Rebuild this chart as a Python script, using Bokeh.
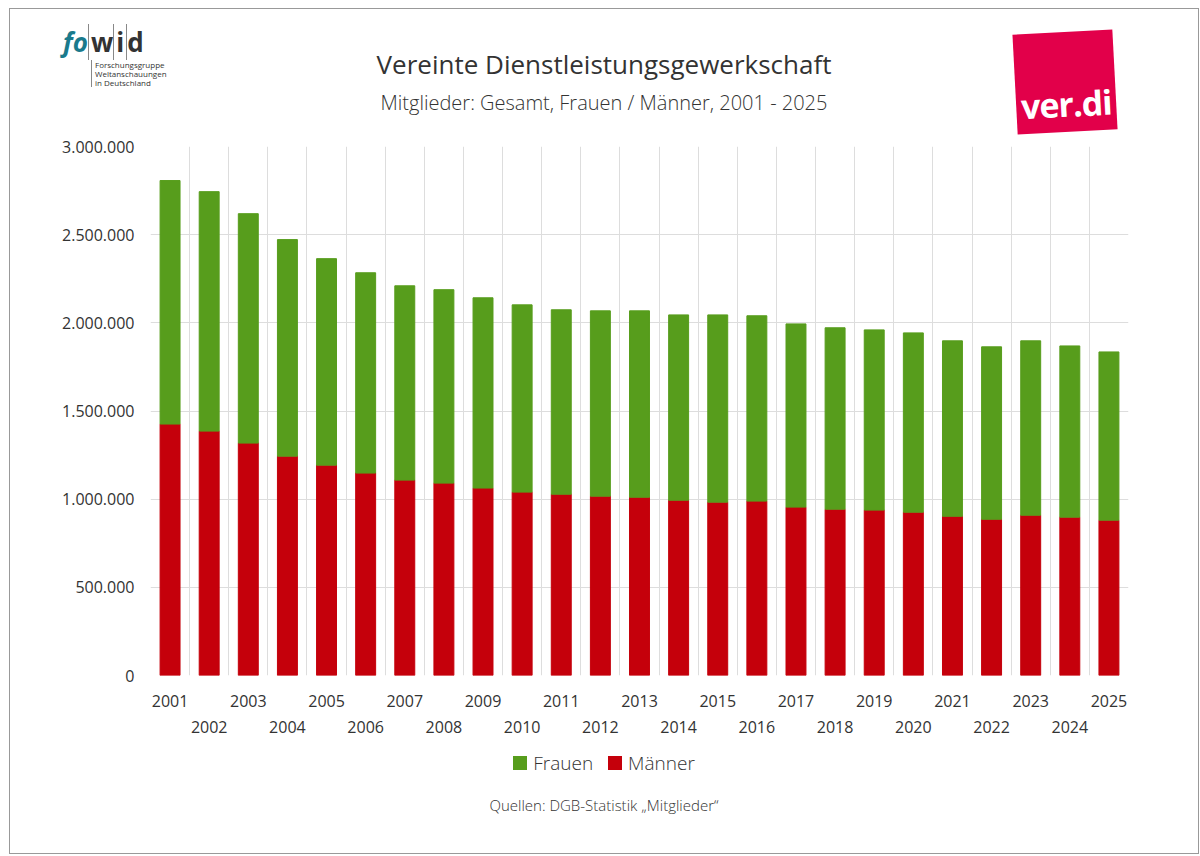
from bokeh.plotting import figure
from bokeh.models import ColumnDataSource, FixedTicker, CustomJSTickFormatter, Range1d, Div
from bokeh.layouts import column
from bokeh.embed import file_html
from bokeh.resources import INLINE

years = list(range(2001, 2026))
total = [2807000, 2744000, 2619000, 2472000, 2364000, 2284000, 2210000, 2188000, 2142000, 2102000,
         2074000, 2068000, 2068000, 2045000, 2045000, 2040000, 1994000, 1972000, 1960000, 1943000,
         1898000, 1864000, 1898000, 1869000, 1835000]
maenner = [1426000, 1386000, 1318000, 1244000, 1193000, 1148000, 1108000, 1091000, 1063000, 1040000,
           1028000, 1017000, 1011000, 994000, 983000, 989000, 955000, 943000, 938000, 926000,
           903000, 886000, 909000, 898000, 881000]
frauen = [t - m for t, m in zip(total, maenner)]
series = ["Frauen", "Männer"]
title = "Vereinte Dienstleistungsgewerkschaft"
subtitle = "Mitglieder: Gesamt, Frauen / Männer, 2001 - 2025"
source_note = "Quellen: DGB-Statistik „Mitglieder“"

x = list(range(1, 26))
src = ColumnDataSource(dict(x=x, m=maenner, t=total, z=[0]*25))

FONT = "Open Sans"
TXT = "#333333"
GREEN = "#579D1C"
RED = "#C5000B"
W = 1178

p = figure(width=W, height=603, output_backend="svg", toolbar_location=None,
           x_range=Range1d(0.5, 25.5), y_range=Range1d(0, 3000000),
           min_border_left=140, min_border_right=60, min_border_top=9, min_border_bottom=60)
p.outline_line_color = None
p.vbar(x="x", bottom="z", top="m", width=0.51, color=RED, source=src)
p.vbar(x="x", bottom="m", top="t", width=0.51, color=GREEN, source=src)

p.xaxis.ticker = FixedTicker(ticks=x)
p.xaxis.major_label_overrides = {i: (str(y) if i % 2 == 1 else "\n" + str(y)) for i, y in zip(x, years)}
p.xgrid.ticker = FixedTicker(ticks=[i + 0.5 for i in range(0, 26)])
p.yaxis.ticker = FixedTicker(ticks=list(range(0, 3000001, 500000)))
p.yaxis.formatter = CustomJSTickFormatter(code="return tick.toString().replace(/\\B(?=(\\d{3})+(?!\\d))/g, '.');")
for ax in (p.xaxis[0], p.yaxis[0]):
    ax.axis_line_color = None
    ax.major_tick_line_color = None
    ax.minor_tick_line_color = None
    ax.major_label_text_font = FONT
    ax.major_label_text_font_size = "16px"
    ax.major_label_text_color = TXT
    ax.major_label_text_font_style = "normal"
p.xaxis.major_label_standoff = 8
p.yaxis.major_label_standoff = 10
p.xgrid.grid_line_color = "#dddddd"
p.ygrid.grid_line_color = "#dddddd"

ff = "font-family:'Open Sans';font-weight:300;color:%s;" % TXT
header_html = f"""
<div style="position:relative;width:{W}px;height:118px;{ff}">
 <div style="position:absolute;left:0;width:{W}px;top:32px;text-align:center;font-size:26px;line-height:36px;font-weight:400;">{title}</div>
 <div style="position:absolute;left:0;width:{W}px;top:75px;text-align:center;font-size:20px;line-height:28px;">{subtitle}</div>
 <div style="position:absolute;left:48px;top:10px;font-size:26px;font-weight:bold;line-height:36px;">
   <span style="color:#1a7a8c;font-style:italic;">fo</span><span style="border-left:1px solid #888;padding-left:2px;">w</span><span style="border-left:1px solid #888;padding:0 2px;border-right:1px solid #888;">i</span><span>d</span></div>
 <div style="position:absolute;left:76px;top:46px;font-size:8px;line-height:9px;font-weight:400;border-left:1px solid #888;padding-left:3px;">Forschungsgruppe<br>Weltanschauungen<br>in Deutschland</div>
 <div style="position:absolute;left:1000px;top:18px;width:100px;height:100px;background:#E2004A;transform:rotate(-3deg);">
   <div style="position:absolute;left:0;width:100px;top:54px;text-align:center;color:white;font-weight:bold;font-size:34px;line-height:36px;letter-spacing:-1px;">ver.di</div></div>
</div>"""
header = Div(text=header_html, width=W, height=118)

sq = "display:inline-block;width:14px;height:14px;vertical-align:middle;margin-right:6px;"
footer_html = f"""
<div style="position:relative;width:{W}px;height:103px;{ff}">
 <div style="position:absolute;left:0;width:{W}px;top:2px;text-align:center;font-size:19px;line-height:28px;">
  <span style="{sq}background:{GREEN};"></span><span style="vertical-align:middle;">{series[0]}</span>
  <span style="{sq}background:{RED};margin-left:10px;"></span><span style="vertical-align:middle;">{series[1]}</span></div>
 <div style="position:absolute;left:0;width:{W}px;top:49px;text-align:center;font-size:15px;line-height:22px;">{source_note}</div>
</div>"""
footer = Div(text=footer_html, width=W, height=103)

lay = column(header, p, footer, spacing=0,
             styles={"border": "1.5px solid #999999", "margin-left": "9px", "margin-top": "8px"})

open("out.html", "w").write(file_html(lay, INLINE))
